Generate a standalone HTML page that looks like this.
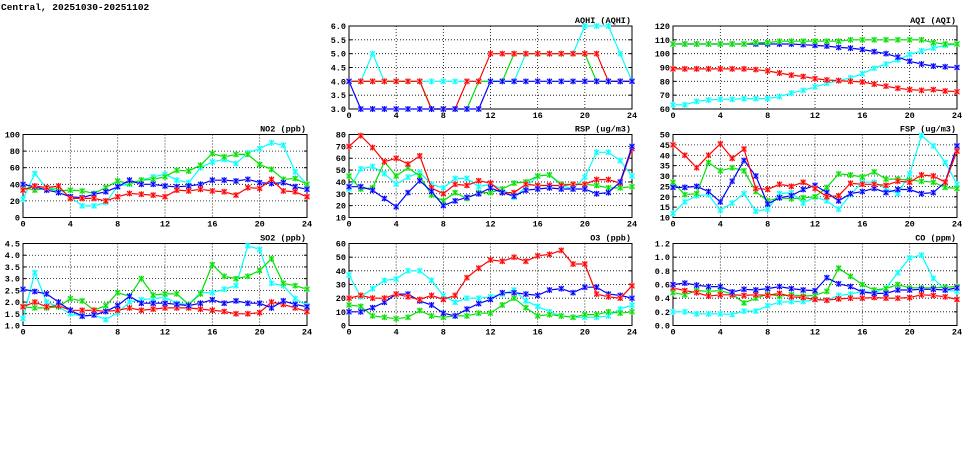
<!DOCTYPE html>
<html><head><meta charset="utf-8"><style>
html,body{margin:0;padding:0;background:#fff;}
svg text{font-family:"Liberation Mono","DejaVu Sans Mono",monospace;font-weight:bold;fill:#000;}
</style></head><body>
<svg id="c" width="975" height="447" viewBox="0 0 975 447" xmlns="http://www.w3.org/2000/svg">
<text x="1" y="10" font-size="9.5">Central, 20251030-20251102</text>
</svg>
<script>
const hours=[0,1,2,3,4,5,6,7,8,9,10,11,12,13,14,15,16,17,18,19,20,21,22,23,24];
const xTicks=[0,4,8,12,16,20,24];
const seriesNames=['green','cyan','blue','red'];
const aqhiRed=[4,4,4,4,4,4,4,3,3,3,4,4,5,5,5,5,5,5,5,5,5,5,4,4,4];
const aqhiGreen=[4,4,4,4,4,4,4,3,3,3,3,4,4,4,5,5,5,5,5,5,5,4,4,4,4];
const aqhiCyan=[4,4,5,4,4,4,4,4,4,4,4,4,4,4,4,5,5,5,5,5,6,6,6,5,4];
const aqhiBlue=[4,3,3,3,3,3,3,3,3,3,3,3,4,4,4,4,4,4,4,4,4,4,4,4,4];
const aqiGreen=[107,107,107,107,107,107,107,108,108,109,109,109,109,109,109,110,110,110,110,110,110,110,108,107,107];
const aqiBlue=[107,107,107,107,107,107,107,107,107,107,107,106.5,106,105.5,104.5,104,103,101.5,100,97.5,94.5,92.5,91,90.5,90];
const aqiRed=[89,89,89,89,89,89,89,88.5,87.5,86,84.5,83.5,82,81,80.5,80,79.5,78,76.5,75,74,73.5,74,73,72.5];
const aqiCyan=[63,63,65.5,66.5,67,67,67.5,67.5,67.5,69,71.5,73.5,76,78.5,80.5,82.5,85.5,89.5,92.5,95.5,99.5,102,104,106,107];
const no2Cyan=[22,53,35,35,25,14,14,18,38,40,45,49,52,45,42,60,67,70,65,78,83,90,87,55,40];
const no2Green=[36,33,35,32,33,32,29,36,44,41,45,46,49,57,56,63,77,73,76,76,64,58,46,47,40];
const no2Blue=[40,37,33,30,25,24,28,31,37,45,40,40,38,37,38,40,45,45,44,46,42,41,42,37,34];
const no2Red=[33,38,36,38,23,23,23,20,25,29,28,27,25,33,32,34,32,31,27,36,35,46,32,31,25];
const rspRed=[70,79,69,57,60,55,62,35,30,38,37,41,39,31,31,38,37,37,37,38,38,42,42,39,68];
const rspCyan=[34,51,53,47,38,44,48,38,35,43,43,36,38,34,27,36,45,46,37,34,44,65,65,58,45];
const rspGreen=[45,34,35,57,45,52,45,29,24,31,26,31,31,34,39,40,45,46,38,38,38,37,35,35,36];
const rspBlue=[36,36,33,26,19,31,41,32,20,24,27,30,35,31,28,33,34,35,34,34,34,30,31,40,70];
const fspRed=[45,40,34,40,45.5,38.5,43,24,23.5,26,25,27,24,20,20.5,26.5,26,26,25.5,27.5,27,30.5,30,27,42];
const fspGreen=[27,21,21.5,36.5,32.5,34,32.5,22.5,18,19.5,19,19.5,20,24.5,31,30.5,29.5,32,28.5,28.5,28,27.5,27,24.5,24];
const fspCyan=[12,17.5,20.5,21,13.5,17,21.5,13,14,21.5,22,17,20,18,14,21,27,27,24,21.5,31,49.5,44.5,36.5,26];
const fspBlue=[24.5,24.5,25,22.5,17.5,27.5,37.5,30,16.5,19.5,20.5,23.5,25.5,22,18,21.5,22.5,24,22,23.5,23.5,21.5,22,27,44.5];
const so2Cyan=[1.3,3.25,2.0,1.8,1.5,1.4,1.45,1.25,1.55,2.0,2.1,2.15,2.2,1.95,1.9,2.4,2.4,2.55,2.7,4.4,4.25,2.8,2.7,2.15,1.85];
const so2Green=[1.8,1.75,1.75,1.8,2.15,2.05,1.65,1.85,2.4,2.25,3.0,2.3,2.35,2.35,1.9,2.35,3.6,3.1,3.0,3.1,3.35,3.85,2.8,2.7,2.55];
const so2Blue=[2.55,2.45,2.35,2.0,1.65,1.4,1.45,1.6,1.85,2.25,1.95,1.95,1.95,1.9,1.85,1.95,2.1,1.95,2.05,1.95,1.95,1.75,2.05,1.9,1.8];
const so2Red=[1.8,2.0,1.8,1.85,1.65,1.65,1.65,1.6,1.65,1.75,1.65,1.7,1.75,1.75,1.75,1.7,1.65,1.6,1.5,1.5,1.55,2.0,1.9,1.75,1.6];
const o3Red=[20,22,20,20,23,21,19,22,19,22,35,42,48,47,50,47,51,52,55,45,45,23,21,20,29];
const o3Cyan=[37,21,27,33,34,40,40,33,22,17,20,20,21,23,26,18,14,10,7,6,6,6,7,12,15];
const o3Blue=[10,10,13,17,23,23,18,15,9,7,12,16,19,24,24,23,22,26,27,24,28,28,23,22,20];
const o3Green=[15,14,7,6,5,6,11,7,6,7,7,9,9,15,20,13,7,8,7,6,8,8,10,9,10];
const coBlue=[0.6,0.62,0.59,0.57,0.57,0.49,0.53,0.52,0.54,0.57,0.54,0.52,0.51,0.7,0.61,0.57,0.49,0.47,0.47,0.52,0.52,0.53,0.53,0.52,0.55];
const coGreen=[0.48,0.45,0.51,0.5,0.51,0.46,0.33,0.4,0.46,0.43,0.45,0.43,0.44,0.5,0.84,0.72,0.6,0.52,0.54,0.6,0.55,0.55,0.55,0.56,0.57];
const coRed=[0.55,0.51,0.48,0.43,0.45,0.45,0.44,0.45,0.44,0.47,0.42,0.41,0.38,0.37,0.39,0.4,0.4,0.41,0.4,0.4,0.41,0.45,0.44,0.42,0.38];
const coCyan=[0.2,0.2,0.17,0.17,0.17,0.16,0.21,0.21,0.29,0.34,0.35,0.35,0.38,0.37,0.44,0.46,0.5,0.48,0.55,0.77,0.99,1.03,0.69,0.52,0.5];

const COL={red:'#ff0000',green:'#00e000',cyan:'#00ffff',blue:'#0000ff'};
const LIGHT={red:'#ff9090',green:'#90f090',cyan:'#a0ffff',blue:'#9090ff'};
const panels=[
 {name:'aqhi',title:'AQHI (AQHI)',L:349,R:632,T:26,B:109,min:3,max:6,step:0.5,dec:1,
  series:[['cyan',aqhiCyan],['green',aqhiGreen],['red',aqhiRed],['blue',aqhiBlue]]},
 {name:'aqi',title:'AQI (AQI)',L:673,R:957,T:26,B:109,min:60,max:120,step:10,dec:0,
  series:[['cyan',aqiCyan],['red',aqiRed],['blue',aqiBlue],['green',aqiGreen]]},
 {name:'no2',title:'NO2 (ppb)',L:23,R:307,T:134.5,B:217.5,min:0,max:100,step:20,dec:0,
  series:[['cyan',no2Cyan],['green',no2Green],['blue',no2Blue],['red',no2Red]]},
 {name:'rsp',title:'RSP (ug/m3)',L:349,R:632,T:134.5,B:217.5,min:10,max:80,step:10,dec:0,
  series:[['cyan',rspCyan],['green',rspGreen],['red',rspRed],['blue',rspBlue]]},
 {name:'fsp',title:'FSP (ug/m3)',L:673,R:957,T:134.5,B:217.5,min:10,max:50,step:5,dec:0,
  series:[['cyan',fspCyan],['green',fspGreen],['blue',fspBlue],['red',fspRed]]},
 {name:'so2',title:'SO2 (ppb)',L:23,R:307,T:243.5,B:325.5,min:1,max:4.5,step:0.5,dec:1,
  series:[['cyan',so2Cyan],['green',so2Green],['red',so2Red],['blue',so2Blue]]},
 {name:'o3',title:'O3 (ppb)',L:349,R:632,T:243.5,B:325.5,min:0,max:60,step:10,dec:0,
  series:[['cyan',o3Cyan],['green',o3Green],['blue',o3Blue],['red',o3Red]]},
 {name:'co',title:'CO (ppm)',L:673,R:957,T:243.5,B:325.5,min:0,max:1.2,step:0.2,dec:1,
  series:[['cyan',coCyan],['green',coGreen],['red',coRed],['blue',coBlue]]}
];
const svg=document.getElementById('c');
const NS='http://www.w3.org/2000/svg';
function mk(tag,attrs,parent){const e=document.createElementNS(NS,tag);for(const k in attrs)e.setAttribute(k,attrs[k]);(parent||svg).appendChild(e);return e;}
panels.forEach(p=>{
  const g=mk('g',{});
  
  
  const xs=h=>p.L+(p.R-p.L)*h/24;
  const ys=v=>p.B-(p.B-p.T)*(v-p.min)/(p.max-p.min);
  const n=Math.round((p.max-p.min)/p.step);
  for(let i=0;i<=n;i++){
    const v=p.min+i*p.step;const y=ys(v);
    if(i>0&&i<n){const gl=mk('line',{x1:p.L,x2:p.R,y1:y,y2:y,stroke:'#000','stroke-width':0.8,'stroke-dasharray':'1,2'},g);
      
      }
    mk('line',{x1:p.L,x2:p.L+3,y1:y,y2:y,stroke:'#000'},g);
    mk('line',{x1:p.R-3,x2:p.R,y1:y,y2:y,stroke:'#000'},g);
    const t=mk('text',{x:p.L-3,y:y+3,'font-size':8.5,'text-anchor':'end'},g);
    t.textContent=v.toFixed(p.dec);
    
    
  }
  xTicks.forEach(h=>{
    const x=xs(h);
    if(h>0&&h<24){const gl=mk('line',{x1:x,x2:x,y1:p.T,y2:p.B,stroke:'#000','stroke-width':0.8,'stroke-dasharray':'1,2'},g);
      
      }
    const t=mk('text',{x:x,y:p.B+9,'font-size':8.5,'text-anchor':'middle'},g);
    t.textContent=h;
    
    
  });
  const fr=mk('rect',{x:p.L,y:p.T,width:p.R-p.L,height:p.B-p.T,fill:'none',stroke:'#000','stroke-width':1},g);
  
  
  const tt=mk('text',{x:p.R-1,y:p.T-3,'font-size':8.5,'text-anchor':'end'},g);
  tt.textContent=p.title;
  
  
  p.series.forEach(([c,vals])=>{
    const pts=hours.map((h,i)=>xs(h).toFixed(1)+','+ys(vals[i]).toFixed(1)).join(' ');
    const pl=mk('polyline',{points:pts,fill:'none',stroke:COL[c],'stroke-width':1.2},g);
    
    
    hours.forEach((h,i)=>{
      const x=xs(h),y=ys(vals[i]);
      const m=mk('g',{},g);
      
      
      mk('rect',{x:x-2.5,y:y-2.5,width:5,height:5,fill:LIGHT[c]},m);
      mk('path',{d:`M${x-2.5},${y-2.5}L${x+2.5},${y+2.5}M${x-2.5},${y+2.5}L${x+2.5},${y-2.5}M${x},${y-3}L${x},${y+3}`,stroke:COL[c],'stroke-width':1},m);
    });
  });
});
</script>
</body></html>
